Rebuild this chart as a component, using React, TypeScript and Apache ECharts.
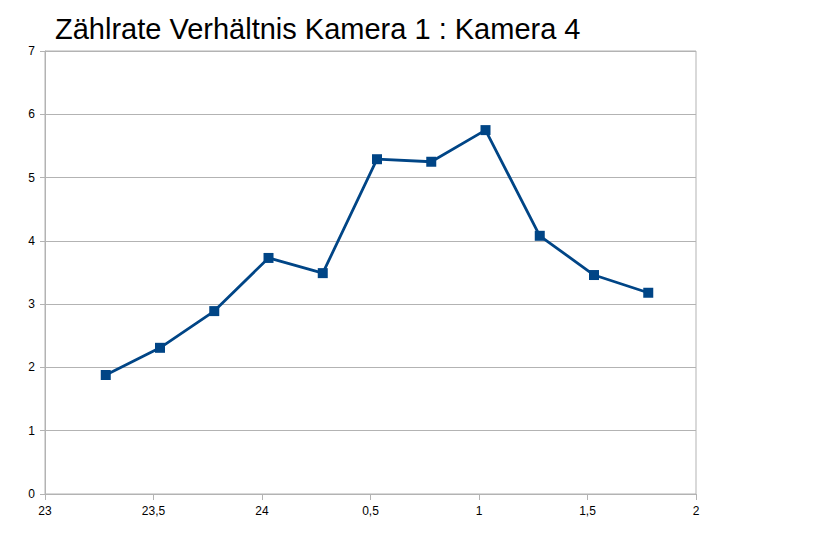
import React, { useEffect, useRef } from "react";
import * as echarts from "echarts";

const titleText = "Zählrate Verhältnis Kamera 1 : Kamera 4";
const hours = [23.28, 23.53, 23.78, 24.03, 24.28, 24.53, 24.78, 25.03, 25.28, 25.53, 25.78];
const ratios = [1.88, 2.31, 2.89, 3.73, 3.49, 5.29, 5.25, 5.75, 4.08, 3.46, 3.18];

const FONT = "'Liberation Sans', Arial, sans-serif";

export default function App() {
  const ref = useRef<HTMLDivElement>(null);
  useEffect(() => {
    if (!ref.current) return;
    const chart = echarts.init(ref.current, null, { renderer: "svg" });
    chart.setOption({
      animation: false,
      backgroundColor: "#ffffff",
      title: {
        text: titleText,
        left: 50,
        top: 9,
        textStyle: { fontSize: 29, fontWeight: "normal", color: "#000000", fontFamily: FONT },
      },
      grid: {
        left: 45,
        right: 135,
        top: 51,
        bottom: 48,
        show: true,
        borderColor: "#b3b3b3",
        borderWidth: 1,
      },
      xAxis: {
        type: "value",
        min: 23,
        max: 26,
        interval: 0.5,
        axisLine: { show: true, lineStyle: { color: "#b3b3b3", width: 1 } },
        axisTick: { show: true, length: 6, lineStyle: { color: "#b3b3b3" } },
        splitLine: { show: false },
        axisLabel: {
          color: "#000000",
          fontSize: 12,
          fontFamily: FONT,
          margin: 11,
          formatter: (v: number) => {
            const h = v > 24 ? v - 24 : v;
            return String(Math.round(h * 10) / 10).replace(".", ",");
          },
        },
      },
      yAxis: {
        type: "value",
        min: 0,
        max: 7,
        interval: 1,
        axisLine: { show: true, lineStyle: { color: "#b3b3b3", width: 1 } },
        axisTick: { show: true, length: 5, lineStyle: { color: "#b3b3b3" } },
        splitLine: { show: true, lineStyle: { color: "#b3b3b3", width: 1 } },
        axisLabel: { color: "#000000", fontSize: 12, fontFamily: FONT, margin: 10 },
      },
      series: [
        {
          type: "line",
          data: hours.map((h, i) => [h, ratios[i]]),
          symbol: "rect",
          symbolSize: 10,
          lineStyle: { color: "#004586", width: 2.8 },
          itemStyle: { color: "#004586" },
        },
      ],
    });
    return () => chart.dispose();
  }, []);
  return (
    <div
      ref={ref}
      style={{ position: "absolute", left: 0, top: 0, width: 831, height: 542 }}
    />
  );
}
